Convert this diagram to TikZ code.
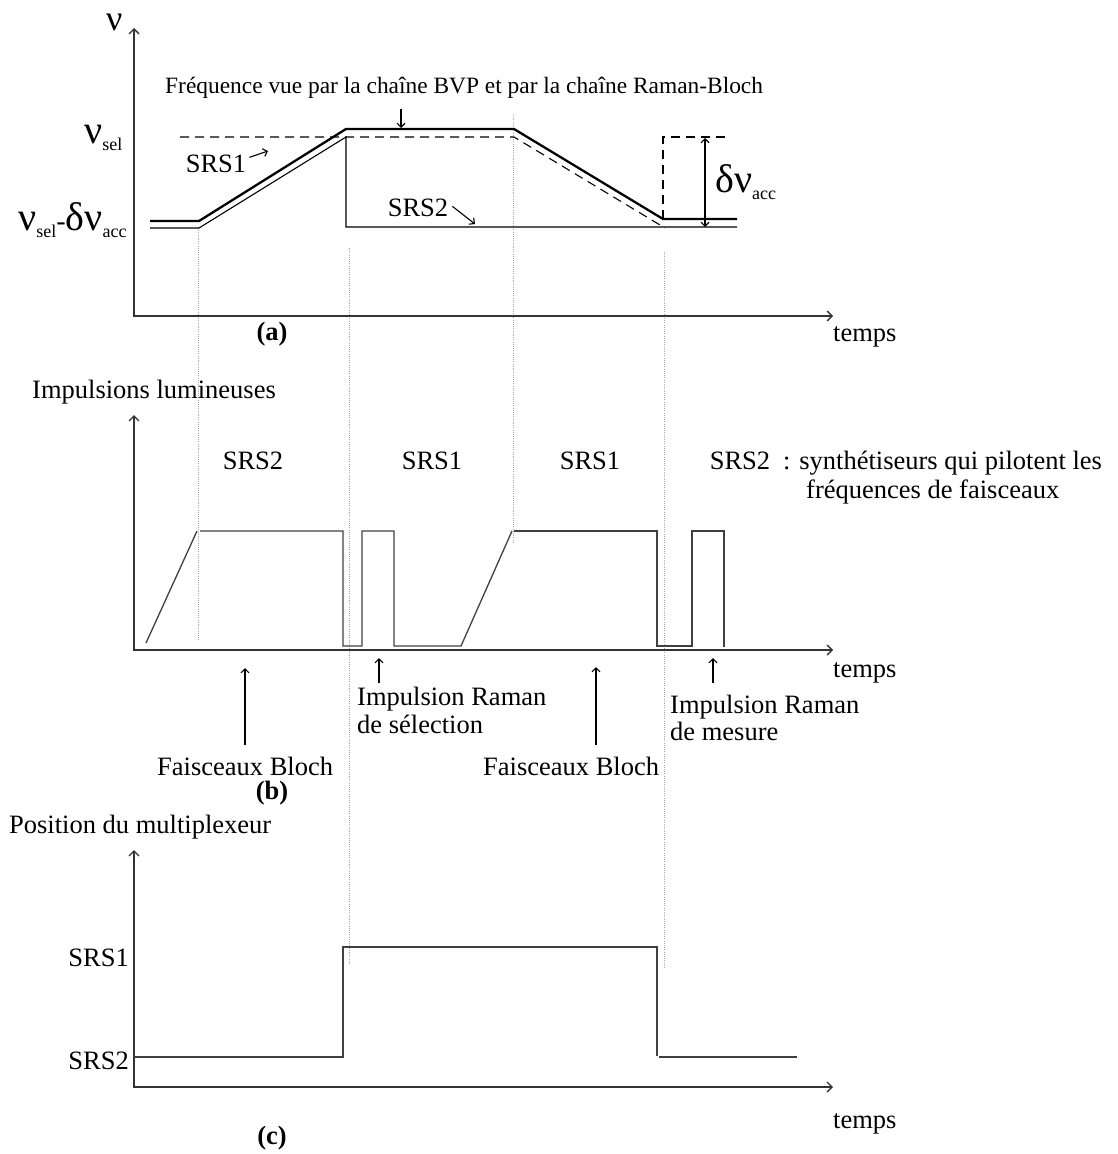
\documentclass[tikz,border=0pt]{standalone}
\usepackage{fontspec}
\setmainfont{Liberation Serif}
\usetikzlibrary{arrows.meta}
\begin{document}
\begin{tikzpicture}[x=1pt,y=-1pt,
  axes/.style={line width=1.4pt, draw=black!80, {Straight Barb[length=5pt,width=10pt]}-{Straight Barb[length=5pt,width=10pt]}},
  heavy/.style={line width=2.3pt, line join=miter},
  fine/.style={line width=1.1pt},
  dsh/.style={line width=1.1pt, dash pattern=on 9pt off 6pt},
  guide/.style={draw=black!35, line width=0.9pt, dash pattern=on 1pt off 1.2pt},
  sig/.style={line width=1.3pt, draw=black!75},
  arr/.style={line width=1.1pt, -{Straight Barb[length=4pt,width=8pt]}},
  txt/.style={inner sep=0pt, font=\fontsize{26.5}{31}\selectfont},
  small/.style={inner sep=0pt, font=\fontsize{23.4}{27}\selectfont},
  greek/.style={inner sep=0pt, font=\fontsize{40}{42}\selectfont},
  lab/.style={inner sep=0pt, font=\fontsize{26.5}{31}\selectfont\bfseries},
]
\useasboundingbox (0,0) rectangle (1118,1154);
\newcommand{\subs}[1]{{\fontsize{18}{18}\selectfont\raisebox{-7pt}{#1}}}

% ---------- guides ----------
\draw[guide] (198,228) -- (198,640);
\draw[guide] (349,248) -- (349,965);
\draw[guide] (513,115) -- (513,543);
\draw[guide] (664,252) -- (664,968);

% ---------- panel (a) ----------
\draw[axes] (134,28) -- (134,316) -- (833,316);
\node[greek, font=\fontsize{36}{38}\selectfont, anchor=base west] (nu) at (106,30) {ν};
\node[greek, anchor=base west] (nusel) at (84,143) {ν\subs{sel}};
\node[greek, anchor=base west] (nulow) at (18,230) {ν\subs{sel}{\fontsize{28}{30}\selectfont -}δν\subs{acc}};
\node[txt, anchor=base west] (ta) at (833,341) {temps};
\node[lab, anchor=base] (la) at (272,340) {(a)};

\draw[heavy] (150,221) -- (199,221) -- (346,129) -- (514,129) -- (663,219) -- (737,219);
\draw[fine] (150,228) -- (199,228) -- (346,137) -- (346,227) -- (737,227);
\draw[dsh] (180,137) -- (514,137) -- (665,228);
\draw[dsh] (663,219) -- (663,137) -- (726,137);
\draw[fine, {Straight Barb[length=4pt,width=8pt]}-{Straight Barb[length=4pt,width=8pt]}] (705,138) -- (705,227);
\node[greek, anchor=base west] (dnu) at (715,192) {δν\subs{acc}};

\node[small, anchor=base west] (freq) at (165,93) {Fréquence vue par la chaîne BVP et par la chaîne Raman-Bloch};
\coordinate (freqA) at (401,109);
\coordinate (freqB) at (401,128);
\draw[arr] (freqA) -- (freqB);

\node[txt, anchor=base] (srs1a) at (216,172) {SRS1};
\coordinate (s1t) at (268,151);
\draw[arr] (srs1a.east) ++(3,-6) coordinate (s1s) (s1s) -- (s1t);
\node[txt, anchor=base] (srs2a) at (418,216) {SRS2};
\coordinate (s2t) at (475,224);
\draw[arr] (srs2a.east) ++(4,-1) coordinate (s2s) (s2s) -- (s2t);

% ---------- panel (b) ----------
\node[txt, anchor=base west] (ilum) at (32,398) {Impulsions lumineuses};
\draw[axes] (134,415) -- (134,650) -- (833,650);
\node[txt, anchor=base west] (tb) at (833,677) {temps};

\draw[sig] (146,643) -- (197,531);
\draw[sig] (200,531) -- (343,531) -- (343,646) -- (362,646) -- (362,531) -- (394,531) -- (394,646) -- (461,646) -- (512,531);
\draw[sig] (514,531) -- (657,531) -- (657,646) -- (692,646) -- (692,531) -- (724,531) -- (724,647);

\node[txt, anchor=base] (b1) at (253,469) {SRS2};
\node[txt, anchor=base] (b2) at (432,469) {SRS1};
\node[txt, anchor=base] (b3) at (590,469) {SRS1};
\node[txt, anchor=base] (b4) at (740,469) {SRS2};
\node[txt, anchor=base west] (syn1) at (783,469) {: synthétiseurs qui pilotent les};
\node[txt, anchor=base west] (syn2) at (806,498) {fréquences de faisceaux};

\node[txt, anchor=base west] (fb1) at (157,775) {Faisceaux Bloch};
\coordinate (fb1t) at (245,668);
\draw[arr] (245,745) coordinate (fb1s) (fb1s) -- (fb1t);

\node[txt, anchor=base west] (irs1) at (357,705) {Impulsion Raman};
\node[txt, anchor=base west] (irs2) at (357,733) {de sélection};
\coordinate (irst) at (379,658);
\draw[arr] (379,683) coordinate (irss) (irss) -- (irst);

\node[txt, anchor=base west] (fb2) at (483,775) {Faisceaux Bloch};
\coordinate (fb2t) at (596,667);
\draw[arr] (596,745) coordinate (fb2s) (fb2s) -- (fb2t);

\node[txt, anchor=base west] (irm1) at (670,713) {Impulsion Raman};
\node[txt, anchor=base west] (irm2) at (670,740) {de mesure};
\coordinate (irmt) at (713,658);
\draw[arr] (713,683) coordinate (irms) (irms) -- (irmt);

\node[lab, anchor=base] (lb) at (272,799) {(b)};

% ---------- panel (c) ----------
\node[txt, anchor=base west] (pos) at (9,833) {Position du multiplexeur};
\draw[axes] (134,850) -- (134,1087) -- (833,1087);
\node[txt, anchor=base east] (c1) at (129,966) {SRS1};
\node[txt, anchor=base east] (c2) at (129,1069) {SRS2};
\draw[sig] (134,1057) -- (343,1057) -- (343,947) -- (657,947) -- (657,1056);
\draw[sig] (659,1057) -- (797,1057);
\node[txt, anchor=base west] (tc) at (833,1128) {temps};
\node[lab, anchor=base] (lc) at (272,1144) {(c)};
\end{tikzpicture}
\end{document}
